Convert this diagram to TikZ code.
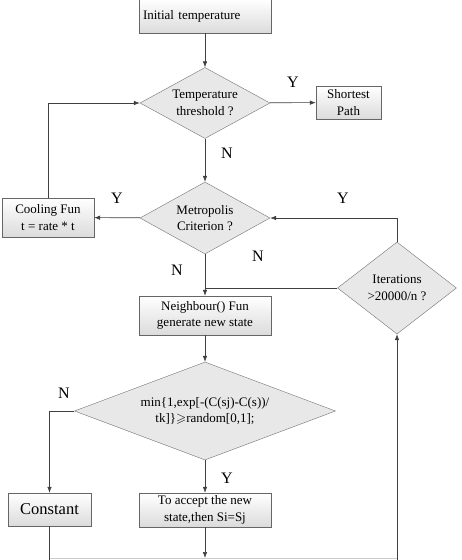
\documentclass[tikz,border=0pt]{standalone}
\usepackage{fontspec}
\setmainfont{Liberation Serif}
\usepackage{amssymb}
\usetikzlibrary{shapes.geometric,arrows.meta,shadows}
\tikzset{
  box/.style={draw=black!60, top color=white, bottom color=black!14,
    drop shadow={shadow xshift=1.3pt,shadow yshift=-1.3pt,fill=black!35},
    inner sep=1pt, align=center, font=\fontsize{13}{16.5}\selectfont},
  dec/.style={diamond, draw=black!55, fill=black!9, inner sep=0pt, align=center,
    font=\fontsize{13}{16.5}\selectfont},
  yn/.style={font=\fontsize{16}{16}\selectfont},
  line/.style={draw=black!75, line width=0.6pt},
  arr/.style={line, -{Latex[length=6pt,width=4.5pt]}},
}
\begin{document}
\begin{tikzpicture}[x=1pt,y=-1pt]
\def\cx{205};
\def\rx{397};
\useasboundingbox[fill=white] (0,0) rectangle (461,560);
%boxes
\node[box, minimum width=132pt, minimum height=34pt, text width=124pt, align=left] (init) at (\cx,16) {Initial temperature};
\node[dec, aspect=1.83, minimum width=130pt, minimum height=71pt] (thr) at (\cx,103) {Temperature\\threshold ?};
\node[box, minimum width=65pt, minimum height=33pt] (short) at (348.5,102.5) {Shortest\\Path};
\node[dec, aspect=1.8, minimum width=130pt, minimum height=72pt] (metro) at (\cx,218) {Metropolis\\Criterion ?};
\node[box, minimum width=92pt, minimum height=39pt] (cool) at (48,217.5) {Cooling Fun\\t = rate * t};
\node[box, minimum width=132pt, minimum height=39pt] (neigh) at (\cx,315.5) {Neighbour() Fun\\generate new state};
\node[dec, aspect=1.3, minimum width=119pt, minimum height=92pt] (iter) at (\rx,288) {Iterations\\>20000/n ?};
\node[dec, aspect=2.66, minimum width=261pt, minimum height=98pt] (crit) at (\cx,411) {min\{1,exp[-(C(sj)-C(s))/\\tk]\}$\geqslant$random[0,1];};
\node[box, minimum width=83pt, minimum height=33pt, font=\fontsize{16.5}{18}\selectfont] (const) at (49.5,509.5) {Constant};
\node[box, minimum width=132pt, minimum height=34pt] (accept) at (\cx,510) {To accept the new\\state,then Si=Sj};
\coordinate (bl) at (49.5,558);
\coordinate (br) at (\rx,558);
\coordinate (bend) at (\cx,558);
%connectors
\draw[arr] (init) -- (thr);
\draw[arr] (thr) -- (short);
\draw[arr] (thr) -- (metro);
\draw[arr] (metro) -- (cool);
\draw[arr] (cool.north) |- (thr.west);
\draw[arr] (metro) -- (neigh);
\draw[line] (iter.west) -- (neigh.north |- iter.west);
\draw[arr] (iter.north) |- (metro.east);
\draw[arr] (neigh) -- (crit);
\draw[arr] (crit.west) -| (const.north);
\draw[arr] (crit) -- (accept);
\draw[arr] (accept) -- (bend);
\draw[line] (const) -- (bl |- 0,560);
\draw[arr] (br |- 0,560) -- (iter.south);
\draw[black!20, line width=0.6pt] (bl) -- (br);
%labels
\foreach\t/\x/\y/\n in {Y/293/82/a,N/227/153/b,Y/117/198/c,Y/343/198/d,N/177/270/e,N/258/256/f,N/64/393/g,Y/227/478/h} {
  \node[yn] (lab\n) at (\x,\y) {\t};
}
\end{tikzpicture}
\end{document}
